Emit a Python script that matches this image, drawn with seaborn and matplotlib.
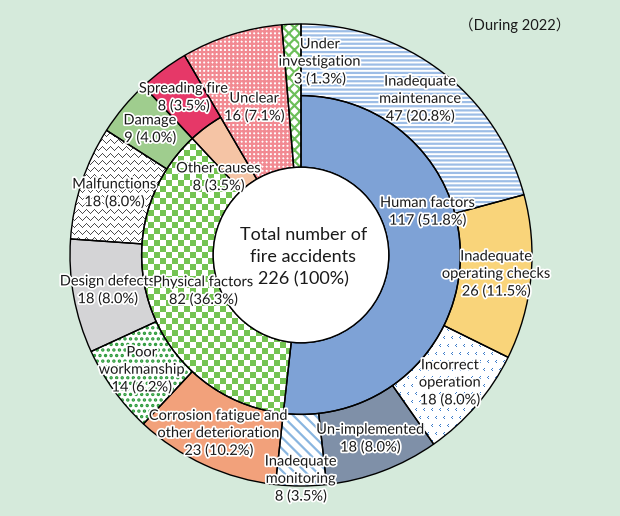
import numpy as np
import matplotlib
matplotlib.use("Agg")
import matplotlib.pyplot as plt
import matplotlib.patheffects as pe
from matplotlib.colors import to_rgba
from matplotlib.patches import Circle
import seaborn as sns

# Data (fire accidents by cause, during 2022)
inner_labels = ["Human factors", "Physical factors", "Other causes", "Unclear", "Under investigation"]
inner_values = [117, 82, 8, 16, 3]

outer_labels = ["Inadequate maintenance", "Inadequate operating checks", "Incorrect operation",
                "Un-implemented", "Inadequate monitoring",
                "Corrosion fatigue and other deterioration", "Poor workmanship", "Design defects",
                "Malfunctions", "Damage", "Spreading fire"]
outer_values = [47, 26, 18, 18, 8, 23, 14, 18, 18, 9, 8]

# categories that run through both rings
full_labels = ["Unclear", "Under investigation"]

total = sum(inner_values)

sns.set_theme(style="white")
plt.rcParams["font.family"] = ["Lato", "Noto Sans CJK JP", "DejaVu Sans"]
plt.rcParams["hatch.linewidth"] = 1.6

BG = "#d5eadb"
INK = "#1a1a1a"
R_OUT, R_MID, R_HOLE = 1.0, 0.69, 0.38

# facecolor, hatch, hatch colour
styles = {
    "Human factors": ("#7ea2d6", None, None),
    "Physical factors": ("white", None, None),
    "Other causes": ("#f5c4a5", None, None),
    "Unclear": ("white", "++++", "#f28a92"),
    "Under investigation": ("white", "xxx", "#6cbf5a"),
    "Inadequate maintenance": ("white", "----", "#9dbde6"),
    "Inadequate operating checks": ("#f9d47a", None, None),
    "Incorrect operation": ("white", None, None),
    "Un-implemented": ("#7f90a8", None, None),
    "Inadequate monitoring": ("white", "\\\\\\", "#8ab6e0"),
    "Corrosion fatigue and other deterioration": ("#f2a17b", None, None),
    "Poor workmanship": ("white", "...", "#2b9a3a"),
    "Design defects": ("#d4d4d6", None, None),
    "Malfunctions": ("white", None, None),
    "Damage": ("#9fcd8e", None, None),
    "Spreading fire": ("#e63868", None, None),
}

display = {
    "Inadequate maintenance": "Inadequate\nmaintenance",
    "Inadequate operating checks": "Inadequate\noperating checks",
    "Incorrect operation": "Incorrect\noperation",
    "Inadequate monitoring": "Inadequate\nmonitoring",
    "Corrosion fatigue and other deterioration": "Corrosion fatigue and\nother deterioration",
    "Poor workmanship": "Poor\nworkmanship",
    "Under investigation": "Under\ninvestigation",
}

# label placement: (radius, angle shift in degrees)
label_pos = {
    "Human factors": (0.58, 22),
    "Physical factors": (0.45, 2),
    "Other causes": (0.49, 10),
    "Unclear": (0.67, 0),
    "Under investigation": (0.84, -8),
    "Inadequate monitoring": (0.97, 0),
}
OUTER_LABEL_R = 0.85

fig = plt.figure(figsize=(6.2, 5.16), dpi=100, facecolor=BG)
ax = fig.add_axes([70 / 620, 30 / 516, 462 / 620, 462 / 516])


def ring(values, labels, visible, radius, width, z):
    fills, _ = ax.pie(values, radius=radius, startangle=90, counterclock=False,
                      wedgeprops=dict(width=width, linewidth=0))
    outlines, _ = ax.pie(values, radius=radius, startangle=90, counterclock=False,
                         wedgeprops=dict(width=width, fill=False, edgecolor="black", linewidth=1.0))
    out = {}
    for w, o, lab in zip(fills, outlines, labels):
        if lab not in visible:
            w.set_visible(False)
            o.set_visible(False)
            continue
        face, hatch, hcol = styles[lab]
        w.set_facecolor(face)
        w.set_edgecolor(hcol if hcol else face)
        if hatch:
            w.set_hatch(hatch)
        w.set_zorder(z)
        o.set_zorder(z + 2)
        out[lab] = w
    return out


def mid_angles(values):
    cum = np.cumsum([0] + list(values))
    return 90 - 360 * (cum[:-1] + cum[1:]) / 2 / total


def texture(wedge, mask, color, z):
    rgba = np.zeros(mask.shape + (4,))
    rgba[mask] = to_rgba(color)
    im = ax.imshow(rgba, extent=(-1, 1, -1, 1), interpolation="nearest", zorder=z)
    im.set_clip_path(wedge)


ring_outer = outer_values + inner_values[3:]
ring_outer_labels = outer_labels + inner_labels[3:]

w_out = ring(ring_outer, ring_outer_labels, outer_labels, R_OUT, R_OUT - R_MID, 1)
w_in = ring(inner_values, inner_labels, inner_labels[:3], R_MID, R_MID - R_HOLE, 1)
w_full = ring(inner_values, inner_labels, full_labels, R_OUT, R_OUT - R_HOLE, 1)

# textures that hatching can't do
yy, xx = np.indices((462, 462))
checker = ((yy // 6 + xx // 6) % 2) == 0
texture(w_in["Physical factors"], checker, "#74c452", 2)

zig = np.abs(xx % 8 - 4)
zigzag = ((yy + zig) % 7) == 0
texture(w_out["Malfunctions"], zigzag, "#4d4d4d", 2)

# small "<" marks
cy, cx = yy % 8, (xx + 4 * ((yy // 8) % 2)) % 8
chevron = ((cy == 0) & (cx == 2)) | ((cy == 1) & (cx == 1)) | ((cy == 2) & (cx == 2))
texture(w_out["Incorrect operation"], chevron, "#3d7cc9", 2)

ax.add_patch(Circle((0, 0), R_HOLE, facecolor="white", edgecolor="black", linewidth=1.0, zorder=5))

halo = [pe.withStroke(linewidth=2.5, foreground="white")]


def put_labels(values, labels, keep, default_r):
    for ang, v, lab in zip(mid_angles(values), values, labels):
        if lab not in keep:
            continue
        r, shift = label_pos.get(lab, (default_r, 0))
        a = np.deg2rad(ang + shift)
        txt = f"{display.get(lab, lab)}\n{v} ({v / total * 100:.1f}%)"
        ax.text(r * np.cos(a), r * np.sin(a), txt, ha="center", va="center",
                fontsize=10.5, linespacing=1.3, color=INK,
                path_effects=halo, zorder=7)


put_labels(ring_outer, ring_outer_labels, outer_labels + full_labels, OUTER_LABEL_R)
put_labels(inner_values, inner_labels, inner_labels[:3], 0.5)

ax.text(0.01, -0.01, f"Total number of\nfire accidents\n{total} (100%)", ha="center", va="center",
        fontsize=13, linespacing=1.5, color=INK, zorder=7)

fig.text(570 / 620, 1 - 25 / 516, "（During 2022）", ha="right", va="center",
         fontsize=10.5, color=INK)

ax.set_xlim(-1, 1)
ax.set_ylim(-1, 1)
ax.set_aspect("equal")
ax.axis("off")

fig.savefig("out.png", dpi=100, facecolor=BG)
